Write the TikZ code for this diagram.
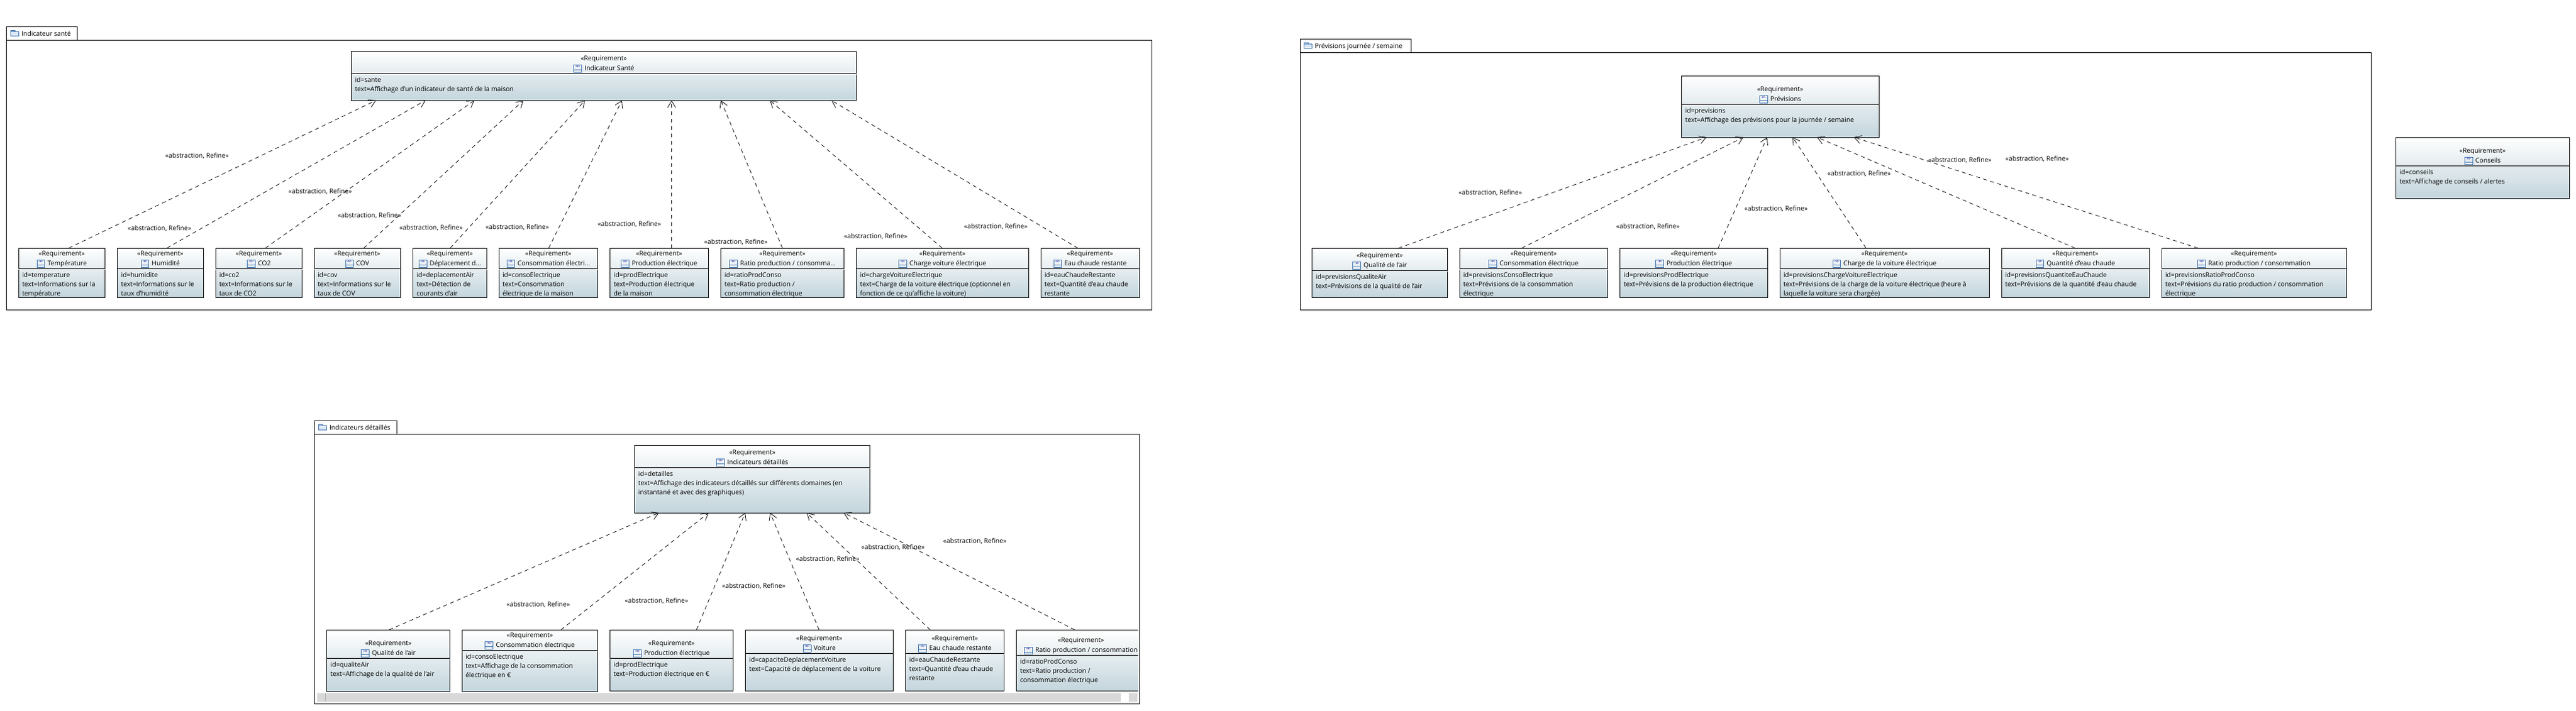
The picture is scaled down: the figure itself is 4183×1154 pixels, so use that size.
\documentclass[tikz,border=0pt]{standalone}
\usepackage{fontspec}
\setmainfont{Open Sans}
\usetikzlibrary{arrows.meta}
\definecolor{gradbot}{HTML}{C3D5DC}
\definecolor{sepc}{HTML}{D8D8D8}
\definecolor{iconb}{HTML}{3F72AF}
\definecolor{iconf}{HTML}{DCE8F5}
\newcommand{\sz}{\fontsize{10.6}{15}\selectfont}
\newcommand{\ricon}{\raisebox{-2.5pt}{\begingroup\fboxsep=0pt\fboxrule=0.9pt\textcolor{iconb}{\fbox{\vbox to 10.5pt{\hbox to 12pt{\hss\fontsize{5.5}{5.5}\selectfont\textcolor{blue!60!black}{‹R›}\hss}\vskip -1pt\vss\hrule height .9pt\vskip 2.5pt}}}\endgroup}\hspace{4pt}}
\tikzset{
  every node/.style={font=\sz,inner sep=0pt,outer sep=0pt},
  panelbox/.style={draw=black,line width=1pt,fill=white,anchor=north west},
  tabbox/.style={draw=black,line width=1pt,fill=white,anchor=north west},
  reqbox/.style={draw=black,line width=1pt,anchor=north west,top color=white,bottom color=gradbot},
  txt/.style={text=black,text height=9pt,text depth=3pt},
  lbl/.style={text=black,text height=9pt,text depth=3pt},
  refine/.style={draw=black,line width=0.8pt,dash pattern=on 6.5pt off 5.5pt,-{Straight Barb[length=11pt,width=13pt,line width=0.8pt]}},
}
% name, x1,y1,x2,y2, ydiv, title, line1,line2
\newcommand{\req}[9]{%
  \node[reqbox,minimum width={#4-#2},minimum height={#5-#3}] (#1) at (#2,#3) {};
  \draw[line width=1pt,black] (#1.west |- 0,#6) -- (#1.east |- 0,#6);
  \draw[line width=1pt,gray!30] (#1.west |- 0,#6+1) -- (#1.east |- 0,#6+1);
  \node[txt] (#1-s) at (#1.north |- 0,#6-24) {«Requirement»};
  \node[txt] (#1-t) at (#1.north |- 0,#6-8) {\ricon #7};
  \node[txt,anchor=west] (#1-a) at (#2+6,#6+11) {#8};
  \node[txt,anchor=west] (#1-b) at (#2+6,#6+26) {#9};
}
\newcommand{\lastline}[3]{\node[txt,anchor=west] (#1-c) at (#1.west |- 0,#2) {\hspace{6pt}#3};}
\newcommand{\link}[4]{\draw[refine] (#1.north -| #2,0) -- (#3.south -| #4,0);}
\begin{document}
\begin{tikzpicture}[x=1pt,y=-1pt]
\useasboundingbox (0,0) rectangle (4183,1154);
\fill[white] (0,0) rectangle (4183,1154);
% ===== Panel 1
\node[tabbox,minimum width=115,minimum height=22] (tab1) at (10,43) {};
\node[panelbox,minimum width=1860,minimum height=438] (pan1) at (10,65) {};
\draw[iconb,line width=.9pt,fill=iconf] (17,51) rectangle (30,58) (17,51) -- (17,49) -- (24,49) -- (24,51);
\node[txt,anchor=west] (tab1t) at (35,55) {Indicateur santé};
\req{sante}{570.5}{83}{1390.6}{163}{119}{Indicateur Santé}{id=sante}{text=Affichage d'un indicateur de santé de la maison}
\req{temp}{30}{403}{170.5}{483}{436}{Température}{id=temperature}{text=Informations sur la}
\lastline{temp}{477}{température}
\req{hum}{190.6}{403}{330}{483}{436}{Humidité}{id=humidite}{text=Informations sur le}
\lastline{hum}{477}{taux d'humidité}
\req{coa}{350}{403}{490.6}{483}{436}{CO2}{id=co2}{text=Informations sur le}
\lastline{coa}{477}{taux de CO2}
\req{cov}{510}{403}{650}{483}{436}{COV}{id=cov}{text=Informations sur le}
\lastline{cov}{477}{taux de COV}
\req{depl}{670.5}{403}{790.6}{483}{436}{Déplacement d...}{id=deplacementAir}{text=Détection de}
\lastline{depl}{477}{courants d'air}
\req{conso}{810}{403}{970.5}{483}{436}{Consommation électri...}{id=consoElectrique}{text=Consommation}
\lastline{conso}{477}{électrique de la maison}
\req{prod}{990.6}{403}{1150}{483}{436}{Production électrique}{id=prodElectrique}{text=Production électrique}
\lastline{prod}{477}{de la maison}
\req{ratio}{1170.5}{403}{1370.5}{483}{436}{Ratio production / consomma...}{id=ratioProdConso}{text=Ratio production /}
\lastline{ratio}{477}{consommation électrique}
\req{charge}{1390.6}{403}{1670}{483}{436}{Charge voiture électrique}{id=chargeVoitureElectrique}{text=Charge de la voiture électrique (optionnel en}
\lastline{charge}{477}{fonction de ce qu'affiche la voiture)}
\req{eau}{1690}{403}{1850}{483}{436}{Eau chaude restante}{id=eauChaudeRestante}{text=Quantité d'eau chaude}
\lastline{eau}{477}{restante}
\link{temp}{111.6}{sante}{610.7}
\link{hum}{271}{sante}{691}
\link{coa}{431}{sante}{770.5}
\link{cov}{590.6}{sante}{850}
\link{depl}{731}{sante}{950}
\link{conso}{891}{sante}{1010}
\link{prod}{1090.6}{sante}{1090.6}
\link{ratio}{1270.5}{sante}{1170.5}
\link{charge}{1530}{sante}{1250}
\link{eau}{1750}{sante}{1350}
\node[lbl] (l1) at (320,253) {«abstraction, Refine»};
\node[lbl] (l2) at (259,371) {«abstraction, Refine»};
\node[lbl] (l3) at (520,311) {«abstraction, Refine»};
\node[lbl] (l4) at (600,350) {«abstraction, Refine»};
\node[lbl] (l5) at (700,370) {«abstraction, Refine»};
\node[lbl] (l6) at (840,369) {«abstraction, Refine»};
\node[lbl] (l7) at (1022,364) {«abstraction, Refine»};
\node[lbl] (l8) at (1195,393) {«abstraction, Refine»};
\node[lbl] (l9) at (1422,384) {«abstraction, Refine»};
\node[lbl] (l10) at (1617,368) {«abstraction, Refine»};
% ===== Panel 2
\node[tabbox,minimum width=180,minimum height=22] (tab2) at (2111,63) {};
\node[panelbox,minimum width=1739,minimum height=418] (pan2) at (2111,85) {};
\draw[iconb,line width=.9pt,fill=iconf] (2117,71) rectangle (2130,78) (2117,71) -- (2117,69) -- (2124,69) -- (2124,71);
\node[txt,anchor=west] (tab2t) at (2135,75) {Prévisions journée / semaine};
\req{prev}{2730.6}{123}{3051}{223}{169}{Prévisions}{id=previsions}{text=Affichage des prévisions pour la journée / semaine}
\req{pq}{2130.6}{403}{2350.5}{483}{439}{Qualité de l'air}{id=previsionsQualiteAir}{text=Prévisions de la qualité de l'air}
\req{pc}{2370}{403}{2610.7}{483}{436}{Consommation électrique}{id=previsionsConsoElectrique}{text=Prévisions de la consommation}
\lastline{pc}{477}{électrique}
\req{pp}{2630.6}{403}{2870.4}{483}{436}{Production électrique}{id=previsionsProdElectrique}{text=Prévisions de la production électrique}
\req{pv}{2890}{403}{3230}{483}{436}{Charge de la voiture électrique}{id=previsionsChargeVoitureElectrique}{text=Prévisions de la charge de la voiture électrique (heure à}
\lastline{pv}{477}{laquelle la voiture sera chargée)}
\req{pe}{3250}{403}{3490}{483}{436}{Quantité d'eau chaude}{id=previsionsQuantiteEauChaude}{text=Prévisions de la quantité d'eau chaude}
\req{pr}{3510}{403}{3810}{483}{436}{Ratio production / consommation}{id=previsionsRatioProdConso}{text=Prévisions du ratio production / consommation}
\lastline{pr}{477}{électrique}
\req{cons}{3890.5}{223}{4172}{322}{269}{Conseils}{id=conseils}{text=Affichage de conseils / alertes}
\link{pq}{2271}{prev}{2771}
\link{pc}{2471}{prev}{2831}
\link{pp}{2790}{prev}{2869.4}
\link{pv}{3030}{prev}{2911}
\link{pe}{3369.5}{prev}{2950.6}
\link{pr}{3569}{prev}{3010.5}
\node[lbl] (m1) at (2420,313) {«abstraction, Refine»};
\node[lbl] (m2) at (2676,368) {«abstraction, Refine»};
\node[lbl] (m3) at (2884,339) {«abstraction, Refine»};
\node[lbl] (m4) at (3019,282) {«abstraction, Refine»};
\node[lbl] (m5) at (3182.5,260) {«abstraction, Refine»};
\node[lbl] (m6) at (3308,258) {«abstraction, Refine»};
% ===== Panel 3
\node[tabbox,minimum width=134,minimum height=22] (tab3) at (510.5,683) {};
\node[panelbox,minimum width=1340,minimum height=438] (pan3) at (510.5,705) {};
\draw[iconb,line width=.9pt,fill=iconf] (517,691) rectangle (530,698) (517,691) -- (517,689) -- (524,689) -- (524,691);
\node[txt,anchor=west] (tab3t) at (535,695) {Indicateurs détaillés};
\fill[sepc] (515,1126) rectangle (1820,1140);
\fill[gray!60] (527.5,1126) rectangle (528.5,1140);
\fill[sepc] (1833,1126) rectangle (1847,1140);
\req{detail}{1030.6}{723}{1412.6}{833}{759}{Indicateurs détaillés}{id=detailles}{text=Affichage des indicateurs détaillés sur différents domaines (en}
\lastline{detail}{800}{instantané et avec des graphiques)}
\req{dq}{530.6}{1023}{730.6}{1123}{1069}{Qualité de l'air}{id=qualiteAir}{text=Affichage de la qualité de l'air}
\req{dc}{750}{1023}{970.8}{1123}{1056}{Consommation électrique}{id=consoElectrique}{text=Affichage de la consommation}
\lastline{dc}{1097}{électrique en €}
\req{dp}{990.4}{1023}{1190.4}{1122}{1069}{Production électrique}{id=prodElectrique}{text=Production électrique en €}
\req{dv}{1210.6}{1023}{1450}{1122}{1061}{Voiture}{id=capaciteDeplacementVoiture}{text=Capacité de déplacement de la voiture}
\req{de}{1470.5}{1023}{1630.7}{1122}{1061}{Eau chaude restante}{id=eauChaudeRestante}{text=Quantité d'eau chaude}
\lastline{de}{1102}{restante}
\begin{scope}
\clip (1640,1010) rectangle (1848,1130);
\req{dr}{1650.5}{1023}{1860}{1122}{1064.7}{Ratio production / consommation}{id=ratioProdConso}{text=Ratio production /}
\lastline{dr}{1105.7}{consommation électrique}
\end{scope}
\link{dq}{632}{detail}{1070}
\link{dc}{911}{detail}{1150.7}
\link{dp}{1131}{detail}{1210}
\link{dv}{1330}{detail}{1250.5}
\link{de}{1510.4}{detail}{1310}
\link{dr}{1745}{detail}{1370}
\node[lbl] (n1) at (874,982) {«abstraction, Refine»};
\node[lbl] (n2) at (1066,976) {«abstraction, Refine»};
\node[lbl] (n3) at (1224,952) {«abstraction, Refine»};
\node[lbl] (n4) at (1344,908) {«abstraction, Refine»};
\node[lbl] (n5) at (1450,889) {«abstraction, Refine»};
\node[lbl] (n6) at (1583,879) {«abstraction, Refine»};
\end{tikzpicture}
\end{document}
